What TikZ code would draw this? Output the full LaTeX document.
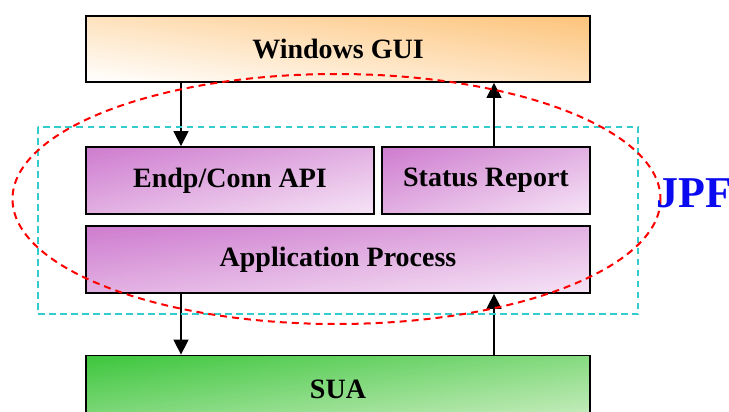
\documentclass[tikz,border=0pt]{standalone}
\usepackage{fontspec}
\setmainfont{Liberation Serif}
\usetikzlibrary{arrows.meta}

\definecolor{guiorange}{HTML}{FDC47A}
\definecolor{jpfpurple}{HTML}{CE7BCE}
\definecolor{jpflight}{HTML}{F6E4F6}
\definecolor{suagreen}{HTML}{3CC63C}
\definecolor{sualight}{HTML}{CDEEC3}
\definecolor{jpfcyan}{HTML}{33CCCC}
\definecolor{jpfblue}{HTML}{0A0AF0}

\tikzset{
  layer/.style={draw=black, line width=1.8pt, inner sep=0pt,
    font=\fontsize{28}{32}\selectfont\bfseries},
  flow/.style={line width=1.5pt, -{Triangle[length=15pt,width=15pt]}},
  jpfframe/.style={draw=jpfcyan, line width=2pt, dash pattern=on 6.5pt off 4.5pt},
  jpfring/.style={draw=red, line width=2pt, dash pattern=on 7pt off 5pt},
}

% A layer box with a corner-to-corner gradient.
% #1 name, #2/#3 centre, #4/#5 width/height,
% #6 direction (-1: #7 top-left to #8 bottom-right, 1: #7 bottom-left to #8 top-right),
% #9 label
\newcommand\layerbox[9]{%
  \pgfmathsetmacro\bxa{#2-#4/2}%
  \pgfmathsetmacro\bya{#3-#5/2}%
  \pgfmathsetmacro\byb{#3+#5/2}%
  \begin{scope}
    \clip (\bxa,\bya) rectangle ({#2+#4/2},\byb);
    \foreach \i in {0,...,59}{%
      \pgfmathsetmacro\sa{2*\i/60-(#6+1)/2}%
      \pgfmathsetmacro\sb{\sa+2/60+0.01}%
      \pgfmathsetmacro\mixp{100-100*(\i+0.5)/60}%
      \fill[#7!\mixp!#8] ({\bxa+\sa*#4},\bya) -- ({\bxa+\sb*#4},\bya)
        -- ({\bxa+(\sb+#6)*#4},\byb) -- ({\bxa+(\sa+#6)*#4},\byb) -- cycle;
    }
  \end{scope}
  \node[layer, minimum width=#4pt, minimum height=#5pt] (#1) at (#2,#3) {#9};
}

\begin{document}
\begin{tikzpicture}[x=1pt, y=-1pt]
  \useasboundingbox (0,0) rectangle (729,412);

  % layers of the stack
  \layerbox{gui}{338}{49}{504}{66}{1}{white}{guiorange}{Windows GUI}
  \layerbox{endp}{230}{180.5}{288}{67}{-1}{jpfpurple}{jpflight}{Endp/Conn API}
  \layerbox{status}{486}{180.5}{208}{67}{-1}{jpfpurple}{jpflight}{Status Report}
  \layerbox{app}{338}{259.5}{504}{67}{-1}{jpfpurple}{jpflight}{Application Process}
  \layerbox{sua}{338}{389}{504}{67}{-1}{suagreen}{sualight}{SUA}

  % columns of the data flow
  \coordinate (down) at (181,0);
  \coordinate (up) at (494,0);

  \draw[flow] (gui.south -| down) -- (endp.north -| down);
  \draw[flow] (status.north -| up) -- (gui.south -| up);
  \draw[flow] (app.south -| down) -- (sua.north -| down);
  \draw[flow] (sua.north -| up) -- (app.south -| up);

  % JPF boundary
  \draw[jpfframe] (38,127) rectangle (638,314);
  \draw[jpfring] (336.5,199) ellipse [x radius=324, y radius=125];

  \node[anchor=base west, inner sep=0pt, text=jpfblue,
        font=\fontsize{44}{48}\selectfont\bfseries] (jpf) at (656,207) {JPF};
\end{tikzpicture}
\end{document}
